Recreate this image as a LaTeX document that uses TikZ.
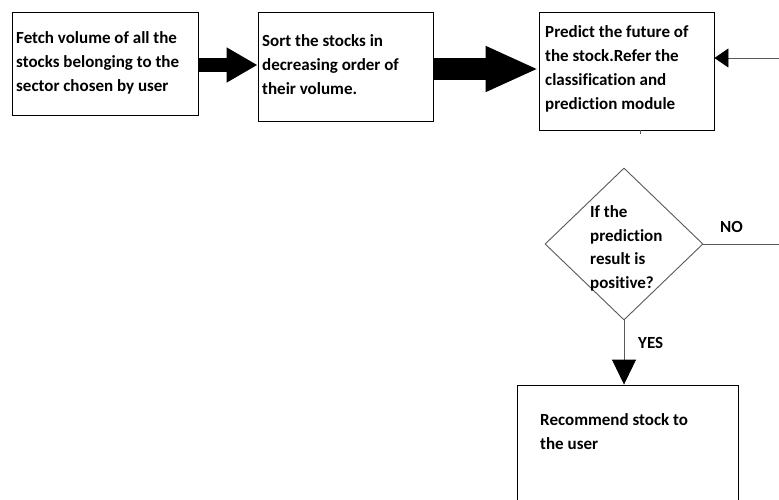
\documentclass[tikz,border=0pt]{standalone}
\usepackage{fontspec}
\setmainfont{Carlito}[Ligatures=NoCommon]
\usetikzlibrary{shapes.geometric,arrows.meta}
\tikzset{
  box/.style={draw=black, line width=0.9pt, inner sep=0pt},
  txt/.style={anchor=base west, align=left, inner sep=0pt,
    font=\bfseries\fontsize{17}{24}\selectfont},
  conn/.style={draw=black!65, line width=0.9pt},
  tip/.style={-{Triangle[#1,color=black]}},
}
\begin{document}
\begin{tikzpicture}[x=1pt,y=-1pt]
\clip (0,0) rectangle (779,500);
\fill[white] (0,0) rectangle (779,500);

% process boxes
\node[box, minimum width=186pt, minimum height=103pt] (b1) at (105,63.5) {};
\node[box, minimum width=175pt, minimum height=109pt] (b2) at (345.5,66.5) {};
\node[box, minimum width=175pt, minimum height=118pt] (b3) at (626.5,71) {};
\node[box, minimum width=221pt, minimum height=135pt] (b4) at (627.5,452.5) {};

% decision
\node[draw=black!65, line width=0.9pt, diamond, inner sep=0pt,
      minimum width=158pt, minimum height=152pt] (dia) at (624,244) {};

% texts (anchored at the baseline of their last line)
\node[txt] (t1) at (16,92) {Fetch volume of all the\\stocks belonging to the\\sector chosen by user};
\node[txt] (t2) at (262,95) {Sort the stocks in\\decreasing order of\\their volume.};
\node[txt] (t3) at (545,109.5) {Predict the future of\\the stock.Refer the\\classification and\\prediction module};
\node[txt, font=\bfseries\fontsize{17}{23.5}\selectfont] (t4) at (590,288) {If the\\prediction\\result is\\positive?};
\node[txt] (t5) at (540,449) {Recommend stock to\\the user};
\node[txt] (no) at (720,232) {NO};
\node[txt] (yes) at (638,348) {YES};

% free ends at the right margin
\coordinate (inR) at (781,58);
\coordinate (outR) at (781,244);

% thick block arrows
\draw[black, line width=14pt, -{Triangle[length=31pt,width=33pt]}]
  (b1.east |- 0,65) -- (b2.west |- 0,65);
\draw[black, line width=22pt, -{Triangle[length=53pt,width=42pt]}]
  (b2.east |- 0,69) -- (b3.west |- 0,69);

% thin connectors
\draw[conn, tip={length=14pt,width=19pt}] (inR) -- (b3.east |- inR);
\draw[conn] (dia.east) -- (outR);
\draw[conn, tip={length=25pt,width=24pt}] (dia.south) -- (dia.south |- b4.north);
\draw[conn] (b3.south -| 640,0) -- ++(0,4);
\end{tikzpicture}
\end{document}
